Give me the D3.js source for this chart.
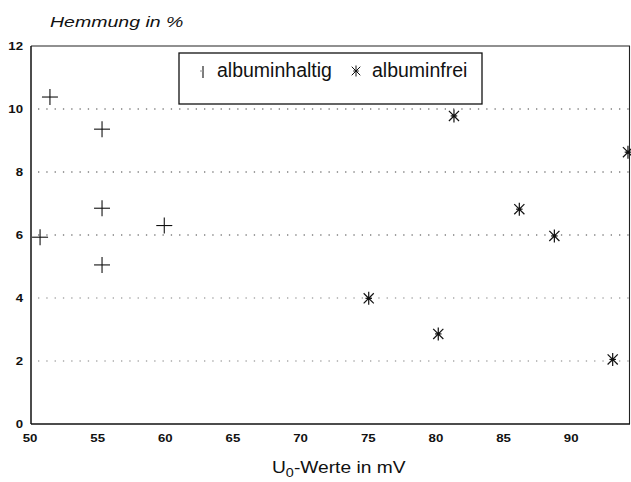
<!DOCTYPE html>
<html>
<head>
<meta charset="utf-8">
<script src="https://cdn.jsdelivr.net/npm/d3@7"></script>
<style>
  html, body { margin: 0; padding: 0; background: #fff; }
  svg { display: block; font-family: "Liberation Sans", Arial, sans-serif; }
</style>
</head>
<body>
<script>
// Hemmung (%) gegen U0-Werte (mV)
const haltigX = [51.4, 55.25, 55.25, 55.25, 50.67, 59.85];
const haltigY = [10.38, 9.36, 6.85, 5.05, 5.93, 6.3];
const freiX = [81.26, 86.09, 88.68, 74.96, 80.1, 92.99, 94.12];
const freiY = [9.78, 6.82, 5.97, 3.99, 2.86, 2.05, 8.63];
const xTicks = [50, 55, 60, 65, 70, 75, 80, 85, 90];
const yTicks = [0, 2, 4, 6, 8, 10, 12];
const gridTicks = [2, 4, 6, 8, 10];
const legendLabels = ['albuminhaltig', 'albuminfrei'];

const width = 631;
const height = 482;
const stretch = 1.26; // the scanned axis lettering is wide

const x = d3.scaleLinear().domain([50, 94.27]).range([31, 630]);
const y = d3.scaleLinear().domain([0, 12]).range([424, 46]);

const svg = d3.select('body')
  .append('svg')
  .attr('width', width)
  .attr('height', height)
  .attr('viewBox', [0, 0, width, height]);

// dotted grid
svg.append('g')
  .selectAll('line')
  .data(gridTicks)
  .join('line')
    .attr('x1', 38)
    .attr('x2', x.range()[1])
    .attr('y1', d => y(d))
    .attr('y2', d => y(d))
    .attr('stroke', '#555')
    .attr('stroke-width', 1.3)
    .attr('stroke-dasharray', '1.3,7')
    .attr('opacity', d => d <= 4 ? 0.5 : 0.75);

// frame: top/right thin, left/bottom axis heavier
svg.append('line')
  .attr('x1', x.range()[0]).attr('x2', x.range()[1])
  .attr('y1', y(12)).attr('y2', y(12))
  .attr('stroke', '#222').attr('stroke-width', 1.1);
svg.append('line')
  .attr('x1', x.range()[1] - 0.5).attr('x2', x.range()[1] - 0.5)
  .attr('y1', y(12)).attr('y2', y(0))
  .attr('stroke', '#222').attr('stroke-width', 1.1);
svg.append('line')
  .attr('x1', x.range()[0]).attr('x2', x.range()[0])
  .attr('y1', y(12)).attr('y2', y(0))
  .attr('stroke', '#111').attr('stroke-width', 1.5);
svg.append('line')
  .attr('x1', x.range()[0]).attr('x2', x.range()[1])
  .attr('y1', y(0)).attr('y2', y(0))
  .attr('stroke', '#111').attr('stroke-width', 1.5);

// tick labels
svg.append('g')
  .selectAll('text')
  .data(yTicks)
  .join('text')
    .attr('transform', d => `translate(23,${y(d) + 4}) scale(${stretch},1)`)
    .attr('text-anchor', 'end')
    .attr('font-size', 10.5)
    .attr('font-weight', 'bold')
    .attr('fill', '#111')
    .text(d => d);

svg.append('g')
  .selectAll('text')
  .data(xTicks)
  .join('text')
    .attr('transform', d => `translate(${x(d) - 1},442) scale(${stretch},1)`)
    .attr('text-anchor', 'middle')
    .attr('font-size', 10.5)
    .attr('font-weight', 'bold')
    .attr('fill', '#111')
    .text(d => d);

// axis titles
svg.append('text')
  .attr('transform', `translate(50,27) scale(${stretch},1)`)
  .attr('font-size', 15.5)
  .attr('font-style', 'italic')
  .attr('fill', '#111')
  .text('Hemmung in %');

const xTitle = svg.append('text')
  .attr('transform', `translate(272,473) scale(1.2,1)`)
  .attr('font-size', 16)
  .attr('fill', '#111');
xTitle.append('tspan').text('U');
xTitle.append('tspan').attr('font-size', 12).attr('dy', 4).text('0');
xTitle.append('tspan').attr('dy', -4).text('-Werte in mV');

// markers
const plus = (g, r) => {
  g.append('line').attr('x1', -r).attr('x2', r).attr('y1', 0).attr('y2', 0);
  g.append('line').attr('x1', 0).attr('x2', 0).attr('y1', -r).attr('y2', r);
};
const star = (g, r) => {
  const a = r * 0.78;
  g.append('line').attr('x1', 0).attr('x2', 0).attr('y1', -r).attr('y2', r);
  g.append('line').attr('x1', -a).attr('x2', a).attr('y1', -a).attr('y2', a);
  g.append('line').attr('x1', -a).attr('x2', a).attr('y1', a).attr('y2', -a);
  g.append('line').attr('x1', -r * 0.5).attr('x2', r * 0.5).attr('y1', 0).attr('y2', 0);
  g.append('circle').attr('r', 1.6).attr('fill', '#111').attr('stroke', 'none');
};

svg.append('g')
  .attr('stroke', '#111')
  .attr('stroke-width', 1.1)
  .selectAll('g')
  .data(d3.zip(haltigX, haltigY))
  .join('g')
    .attr('transform', d => `translate(${x(d[0])},${y(d[1])})`)
    .each(function() { plus(d3.select(this), 8); });

svg.append('g')
  .attr('stroke', '#111')
  .attr('stroke-width', 1.2)
  .selectAll('g')
  .data(d3.zip(freiX, freiY))
  .join('g')
    .attr('transform', d => `translate(${x(d[0])},${y(d[1])})`)
    .each(function() { star(d3.select(this), 6.5); });

// legend
const legend = svg.append('g');
legend.append('rect')
  .attr('x', 179).attr('y', 53)
  .attr('width', 303).attr('height', 51)
  .attr('fill', '#fff')
  .attr('stroke', '#111')
  .attr('stroke-width', 1.3);

const lp = legend.append('g')
  .attr('transform', 'translate(203,72)')
  .attr('stroke', '#111').attr('stroke-width', 1.1);
lp.append('line').attr('x1', 0).attr('x2', 0).attr('y1', -6).attr('y2', 6);
lp.append('line').attr('x1', -3).attr('x2', 0).attr('y1', -1).attr('y2', -1).attr('stroke', '#999');

const ls = legend.append('g')
  .attr('transform', 'translate(356,71)')
  .attr('stroke', '#111').attr('stroke-width', 1);
star(ls, 5.5);
ls.select('circle').attr('r', 0.8);

legend.selectAll('text')
  .data(legendLabels)
  .join('text')
    .attr('x', (d, i) => [217, 372][i])
    .attr('y', 77)
    .attr('font-size', 19.5)
    .attr('fill', '#111')
    .text(d => d);
</script>
</body>
</html>
